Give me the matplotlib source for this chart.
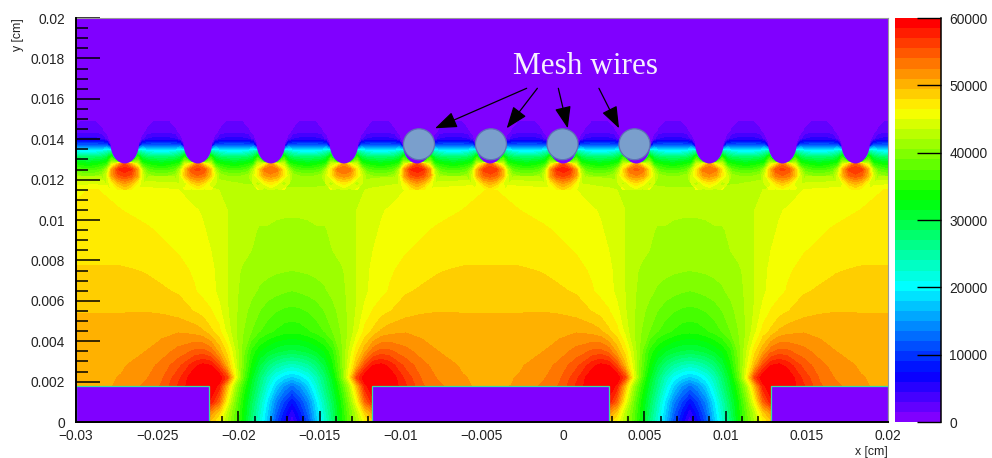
import numpy as np
import matplotlib
matplotlib.use('Agg')
import matplotlib.pyplot as plt
from matplotlib.colors import ListedColormap, BoundaryNorm, hsv_to_rgb
from matplotlib.patches import Ellipse, Rectangle

plt.rcParams['font.family'] = ['Liberation Sans', 'DejaVu Sans']

# field map values, one half period below the mesh
# columns: distance from hole centre, rows: height
hole_d = [0, .0005, .001, .0015, .002, .0025, .003, .0035, .004, .0045, .005, .0055, .006, .007, .008, .009, .0105, .01225]
hole_y = [0, .0005, .001, .0018, .0022, .0028, .0035, .0045, .0055, .0065, .0075, .0085, .0095, .0105, .0115, .0122]
hole_z = [
    [3000, 7000, 11000, 17000, 22000, 27000, 33000, 38000, 42000, 46000, 49000, 52000, 54000, 54000, 53500, 53000, 52000, 52000],
    [5000, 8500, 12500, 18000, 23000, 28000, 33500, 38500, 43000, 49000, 52000, 56000, 56000, 55000, 54000, 53000, 52000, 52000],
    [7500, 10500, 14000, 19000, 24000, 29000, 34000, 39500, 46000, 54000, 58000, 60000, 60000, 56000, 54000, 53000, 52000, 52000],
    [13000, 15000, 18000, 22000, 26500, 31000, 36000, 42000, 50000, 58000, 62000, 62000, 60500, 57200, 54200, 52800, 51300, 50300],
    [17500, 18500, 20500, 23500, 27500, 32000, 38000, 46000, 56000, 60000, 62000, 62000, 60000, 56500, 53800, 52300, 51100, 50500],
    [23000, 23700, 25000, 27000, 30000, 34000, 39000, 44500, 50000, 55500, 58500, 59000, 58000, 55000, 53000, 51800, 50800, 50300],
    [29500, 29800, 30400, 31500, 33000, 35500, 39500, 43500, 47500, 50500, 53500, 54500, 54300, 53000, 51800, 51000, 50200, 50000],
    [35000, 35200, 35800, 36600, 37600, 39000, 40500, 42200, 44500, 47000, 48300, 49700, 50300, 50800, 50500, 50200, 49900, 49800],
    [37000, 37200, 37600, 38200, 39000, 40000, 41000, 42300, 43700, 45500, 46600, 47300, 47900, 48800, 49300, 49450, 49450, 49450],
    [39000, 39200, 39500, 39800, 40300, 40900, 41500, 42300, 43500, 44500, 45700, 46000, 46600, 47800, 48200, 48500, 48600, 48600],
    [40500, 40600, 40700, 40900, 41000, 41200, 41700, 42500, 43500, 44500, 45400, 45700, 46300, 46900, 47500, 47900, 48200, 48200],
    [41200, 41200, 41300, 41500, 41700, 42000, 42500, 43000, 43500, 44300, 45000, 45400, 45900, 46400, 46800, 47100, 47300, 47400],
    [41700, 41700, 41800, 41900, 41900, 42200, 42700, 43200, 43500, 44200, 44800, 45100, 45400, 45800, 46300, 46700, 47000, 47100],
    [42200, 42200, 42200, 42300, 42300, 42500, 42800, 43200, 43500, 44100, 44600, 44900, 45100, 45400, 45700, 46000, 46500, 46800],
    [42300, 42300, 42300, 42300, 42400, 42500, 42600, 42800, 43000, 43500, 43800, 44000, 44300, 45000, 45300, 45500, 46000, 46600],
    [40500, 40500, 40600, 40700, 40800, 41000, 41100, 41200, 41300, 41400, 41500, 41600, 41700, 41800, 41900, 42000, 42000, 42000],
]

# one wire pitch around a mesh wire, columns: distance from wire centre
nan = float('nan')
wire_d = [0, .0004, .0008, .0011, .0014, .0018, .00225]
wire_y = [.0115, .0118, .0122, .0125, .0128, .0131, .0134, .0137, .014, .0144, .015, .0155, .016]
wire_z = [
    [49000, 47500, 45500, nan, nan, nan, nan],
    [52000, 50500, 47000, 44000, nan, nan, nan],
    [57000, 56000, 52000, 44000, 41000, 40500, 40500],
    [59000, 58000, 52000, 42000, 38000, 37000, 36500],
    [56000, 50000, 43000, 35000, 34000, 33000, 32500],
    [0, 0, 36000, 30000, 28500, 28000, 27500],
    [0, 0, 25000, 23000, 21000, 20000, 20000],
    [0, 0, 0, 12000, 12000, 12000, 12000],
    [0, 0, 0, 2000, 4500, 5000, 5000],
    [0, 0, 0, 800, 1700, 2300, 2300],
    [0, 0, 0, 300, 800, 1300, 1300],
    [0, 0, 0, 0, 300, 500, 500],
    [0, 0, 0, 0, 0, 0, 0],
]

hole_x = [-.0412, -.0167, .0078]
wire_x = [-.0315, -.027, -.0225, -.018, -.0135, -.009, -.0045, 0, .0045, .009, .0135, .018]
wire_peak = [56000, 58000, 56000, 54000, 54000, 58000, 57000, 58000, 54500, 54000, 56000, 57000]
wire_top = .0138
strip_x = [(-.03, -.0218), (-.0118, .0028), (.0128, .02)]
strip_h = .00178

# the marked wires and their arrows
mark_x = [-.00888, -.00445, -.00004, .00439]
mark_y = .01375
arrow_from = [(-.00225, .01652), (-.00159, .01652), (-.0003, .01652), (.0022, .01652)]
arrow_to = [(-.00789, .01454), (-.00348, .01454), (.00028, .01454), (.00344, .01454)]
x_ticks = [-.03, -.025, -.02, -.015, -.01, -.005, 0, .005, .01, .015, .02]
x_labels = ['\u22120.03', '\u22120.025', '\u22120.02', '\u22120.015', '\u22120.01', '\u22120.005', '0', '0.005', '0.01', '0.015', '0.02']
y_ticks = [0, .002, .004, .006, .008, .01, .012, .014, .016, .018, .02]
y_labels = ['0', '0.002', '0.004', '0.006', '0.008', '0.01', '0.012', '0.014', '0.016', '0.018', '0.02']
bar_ticks = [0, 10000, 20000, 30000, 40000, 50000, 60000]

levels = np.arange(0, 60001, 1500)
hues = np.linspace(270, 0, len(levels) - 1) / 360.0
colors = hsv_to_rgb(np.column_stack([hues, np.ones_like(hues), np.ones_like(hues)]))
cmap = ListedColormap(colors)
norm = BoundaryNorm(levels, cmap.N)

W, H = 992.0, 458.0
fig = plt.figure(figsize=(9.92, 4.58), dpi=100)
ax = fig.add_axes([76 / W, 1 - 422 / H, 812 / W, 404 / H])
cax = fig.add_axes([895 / W, 1 - 422 / H, 46 / W, 404 / H])

# unfold the half period to the whole width
d = np.array(hole_d)
z = np.array(hole_z, dtype=float)
cell_z = np.hstack([z[:, :0:-1], z])
cell_d = np.concatenate([-d[:0:-1], d])
xs, zs = [], []
for i, hc in enumerate(hole_x):
    k = 0 if i == 0 else 1
    xs.append(hc + cell_d[k:])
    zs.append(cell_z[:, k:])
low_x = np.concatenate(xs)
low_z = np.clip(np.hstack(zs), 0, 59999)
cf = ax.contourf(low_x, hole_y, low_z, levels=levels, cmap=cmap, norm=norm)

# same for the row of wires
d = np.array(wire_d)
z = np.array(wire_z, dtype=float)
xs, zs = [], []
for i, wx in enumerate(wire_x):
    one = np.where(z > 46000, z + wire_peak[i] - 59000, z)
    one = np.hstack([one[:, :0:-1], one])
    one_d = np.concatenate([-d[:0:-1], d])
    k = 0 if i == 0 else 1
    xs.append(wx + one_d[k:])
    zs.append(one[:, k:])
up_x = np.concatenate(xs)
up_z = np.clip(np.hstack(zs), 0, 59999)
ax.contourf(up_x, wire_y, up_z, levels=levels, cmap=cmap, norm=norm)

# purple above the field map
ax.contourf([-.03, .02], [.016, .02], [[0, 0], [0, 0]], levels=levels, cmap=cmap, norm=norm)

purple = colors[0]
for wx in wire_x:
    ax.add_patch(Ellipse((wx, wire_top), .00176, .002, facecolor=purple, edgecolor='none', zorder=3))

for x0, x1 in strip_x:
    ax.add_patch(Rectangle((x0, 0), x1 - x0, strip_h, facecolor=purple, edgecolor='#35e0a0', lw=0.9, zorder=3))

for mx in mark_x:
    ax.add_patch(Ellipse((mx, mark_y), .00191, .00153, facecolor='#7a9fcc', edgecolor='#5f73b5', lw=0.9, zorder=5))

for a, b in zip(arrow_from, arrow_to):
    ax.annotate('', xy=b, xytext=a, zorder=6,
                arrowprops=dict(arrowstyle='-|>,head_length=0.75,head_width=0.28', color='black', lw=0.9,
                                mutation_scale=18, shrinkA=0, shrinkB=0))

ax.text(.00137, .01762, 'Mesh wires', family='Liberation Serif', fontsize=22.5, color='#f6f0ff',
        ha='center', va='center', zorder=6)

ax.set_xlim(-.03, .02)
ax.set_ylim(0, .02)
ax.set_xticks(x_ticks)
ax.set_xticklabels(x_labels, fontsize=9.9, color='#222222')
ax.set_yticks(y_ticks)
ax.set_yticklabels(y_labels, fontsize=9.9, color='#222222')
ax.set_xticks(np.arange(-.03, .0201, .001), minor=True)
ax.set_yticks(np.arange(0, .0201, .0005), minor=True)
ax.tick_params(axis='x', which='major', direction='in', length=8, width=1.1, pad=5)
ax.tick_params(axis='x', which='minor', direction='in', length=4, width=1.1)
ax.tick_params(axis='y', which='major', direction='in', length=17, width=1.1, pad=8)
ax.tick_params(axis='y', which='minor', direction='in', length=8.5, width=1.1)
ax.spines['left'].set_linewidth(1.4)
ax.spines['bottom'].set_linewidth(1.4)
ax.spines['top'].set_color('#999999')
ax.spines['top'].set_linewidth(0.8)
ax.spines['right'].set_color('#999999')
ax.spines['right'].set_linewidth(0.8)
for s in ['left', 'bottom']:
    ax.spines[s].set_zorder(8)
for t in ax.get_xticklines() + ax.get_yticklines():
    t.set_zorder(8)

fig.text(888 / W, 1 - 452 / H, 'x [cm]', fontsize=8.8, color='#222222', ha='right', va='center')
fig.text(18 / W, 1 - 18 / H, 'y [cm]', fontsize=8.8, color='#222222', rotation=90, ha='center', va='top')

cb = fig.colorbar(cf, cax=cax, ticks=bar_ticks, spacing='proportional')
cb.outline.set_visible(False)
cax.set_yticks(bar_ticks)
cax.set_yticks([], minor=True)
cax.set_yticklabels([str(v) for v in bar_ticks], fontsize=9.9, color='#222222')
cax.yaxis.set_ticks_position('right')
cax.tick_params(axis='y', which='major', direction='in', length=17, width=1.0, pad=6)
cax.spines['right'].set_visible(True)
cax.spines['right'].set_linewidth(1.1)
cax.spines['right'].set_color('black')

fig.savefig('out.png', dpi=100)
